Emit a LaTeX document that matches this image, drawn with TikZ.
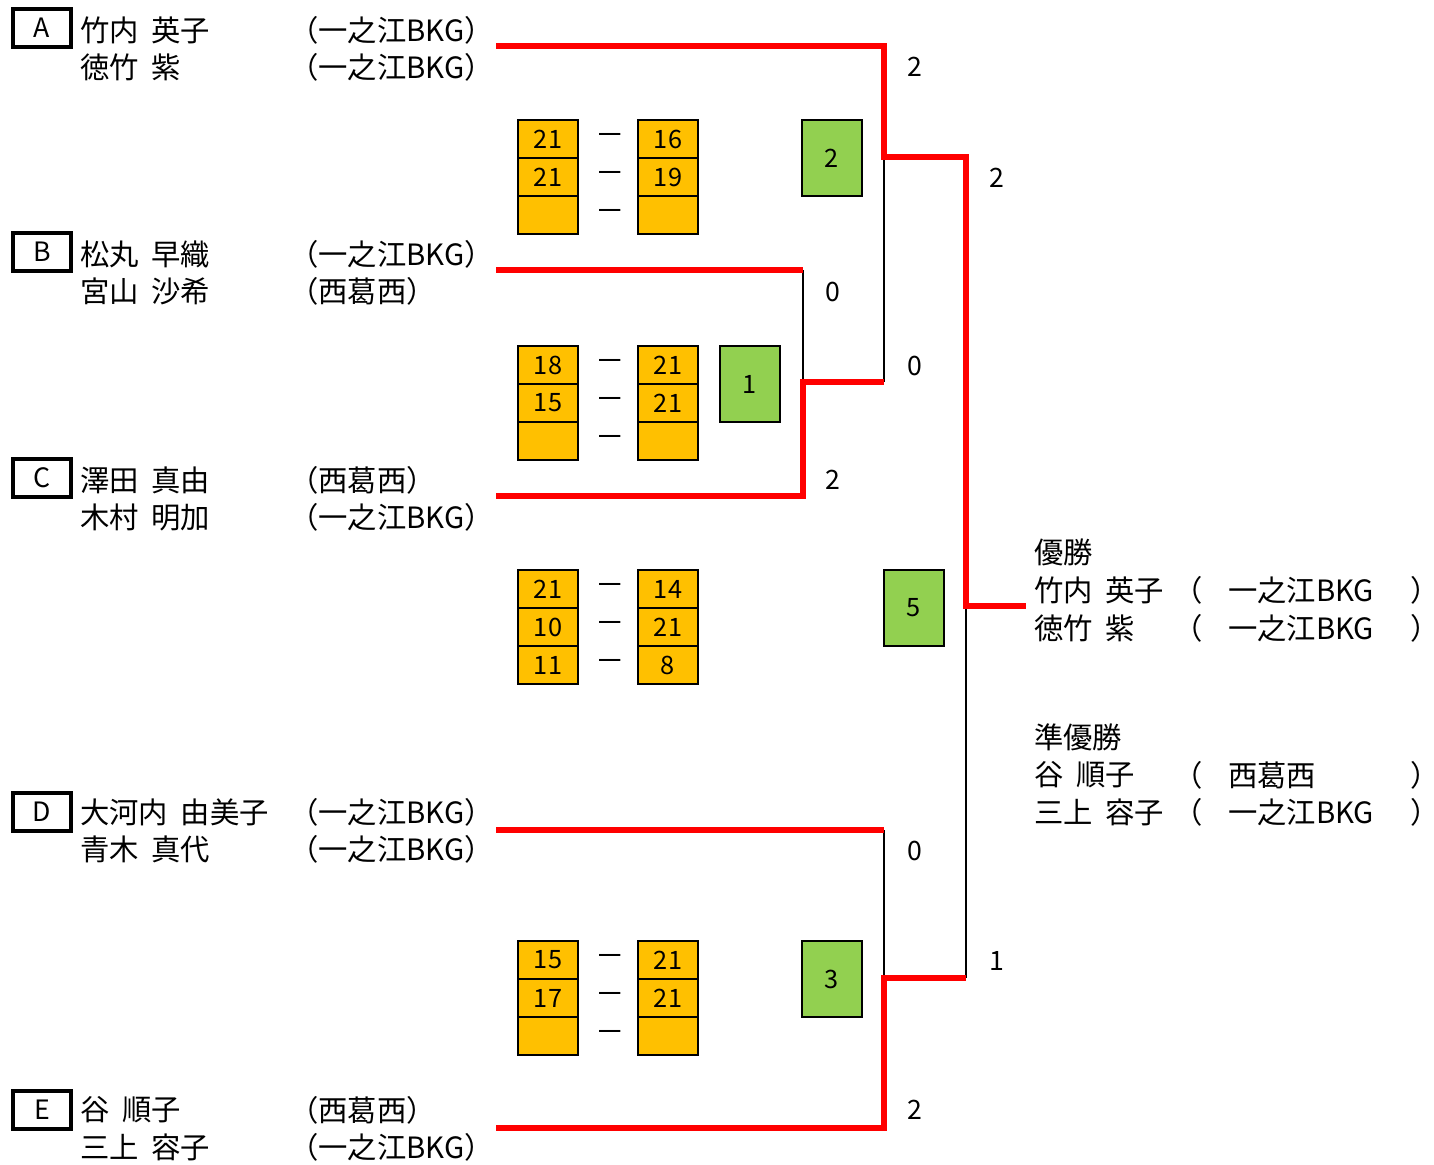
\documentclass[tikz,border=0pt]{standalone}
\usepackage{fontspec}
\setmainfont[WordSpace=1.9]{Noto Sans CJK JP}
\usetikzlibrary{positioning}
\definecolor{gold}{HTML}{FFC000}
\definecolor{leaf}{HTML}{92D050}

\begin{document}
\begin{tikzpicture}[
  x=0.75pt, y=-0.75pt,
  every node/.style={font=\fontsize{22}{26}\selectfont,inner sep=0pt},
  seed/.style={rectangle,draw,line width=3pt,minimum width=43pt,minimum height=28pt,font=\fontsize{20}{24}\selectfont},
  player/.style={anchor=west},
  cell/.style={rectangle,draw,line width=2.2pt,fill=gold,minimum width=45pt,minimum height=28.5pt,font=\fontsize{19}{22}\selectfont},
  games/.style={rectangle,draw,line width=2.2pt,fill=leaf,minimum width=45pt,minimum height=57pt,font=\fontsize{19}{22}\selectfont},
  win/.style={draw=red,line width=3.8pt},
  lose/.style={draw=black,line width=2.2pt},
  pts/.style={font=\fontsize{20}{24}\selectfont}]
\useasboundingbox (0,0) rectangle (1434,1164);
% pairs
\foreach \s/\y in {A/28,B/252,C/478,D/812,E/1110}
  \node[seed] (seed\s) at (42,\y) {\s};
\foreach \s/\y/\na/\ca/\nb/\cb in {A/30/竹内 英子/一之江BKG/徳竹 紫/一之江BKG,
    B/254/松丸 早織/一之江BKG/宮山 沙希/西葛西,
    C/480/澤田 真由/西葛西/木村 明加/一之江BKG,
    D/812/大河内 由美子/一之江BKG/青木 真代/一之江BKG,
    E/1110/谷 順子/西葛西/三上 容子/一之江BKG} {
  \node[player] (n\s1) at (80,\y) {\na};
  \node[player] (c\s1) at (289,\y) {（\ca）};
  \node[player] (n\s2) at (80,\y+37) {\nb};
  \node[player] (c\s2) at (289,\y+37) {（\cb）};
}
% game scores
\foreach \m/\y/\a/\b/\c/\d/\e/\f in {1/120/21/16/21/19/{}/{},
    2/346/18/21/15/21/{}/{},
    3/570/21/14/10/21/11/8,
    4/941/15/21/17/21/{}/{}} {
  \node[cell] (m\m l1) at (548,\y+19) {\a};
  \node[cell] (m\m l2) at (548,\y+57) {\c};
  \node[cell] (m\m l3) at (548,\y+95) {\e};
  \node[cell] (m\m r1) at (668,\y+19) {\b};
  \node[cell] (m\m r2) at (668,\y+57) {\d};
  \node[cell] (m\m r3) at (668,\y+95) {\f};
  \foreach \k in {1,2,3}
    \node (m\m d\k) at (610,\y-19+38*\k) {－};
}
\foreach \m/\x/\y/\g in {1/832/158/2, 2/750/384/1, 3/914/608/5, 4/832/979/3}
  \node[games] (g\m) at (\x,\y) {\g};
% bracket
\coordinate (pA) at (496,46);
\coordinate (pB) at (496,270);
\coordinate (pC) at (496,496);
\coordinate (pD) at (496,830);
\coordinate (pE) at (496,1128);
\coordinate (eB) at (803,270);
\coordinate (eD) at (884,830);
\coordinate (b1) at (803,382);
\coordinate (w1) at (884,382);
\coordinate (b2) at (884,157);
\coordinate (w2) at (966,157);
\coordinate (b3) at (884,978);
\coordinate (w3) at (966,978);
\coordinate (b4) at (966,606);
\coordinate (w4) at (1026,606);
\draw[lose] (eB) -- (b1);
\draw[lose] (b2) -- (w1);
\draw[lose] (eD) -- (b3);
\draw[lose] (b4) -- (w3);
\draw[win] (pB) -- (eB);
\draw[win] (pD) -- (eD);
\draw[win] (pC) -| (b1) -- (w1);
\draw[win] (pE) -| (b3) -- (w3);
\draw[win] (pA) -| (b2) -- (w2) -- (b4) -- (w4);
\foreach \x/\y/\p [count=\i] in {915/67/2, 997/178/2, 833/292/0, 915/366/0,
    833/480/2, 915/851/0, 997/961/1, 915/1110/2}
  \node[pts] (p\i) at (\x,\y) {\p};
% result
\node[player] (first) at (1034,552) {優勝};
\node[player] (second) at (1034,737) {準優勝};
\foreach \y/\n/\c [count=\i] in {590/竹内 英子/一之江BKG, 628/徳竹 紫/一之江BKG,
    775/谷 順子/西葛西, 812/三上 容子/一之江BKG} {
  \node[player] (r\i n) at (1034,\y) {\n};
  \node (r\i o) at (1188,\y) {（};
  \node[player] (r\i c) at (1228,\y) {\c};
  \node[player] (r\i x) at (1410,\y) {\makebox[.4em][l]{）}};
}
\end{tikzpicture}
\end{document}
